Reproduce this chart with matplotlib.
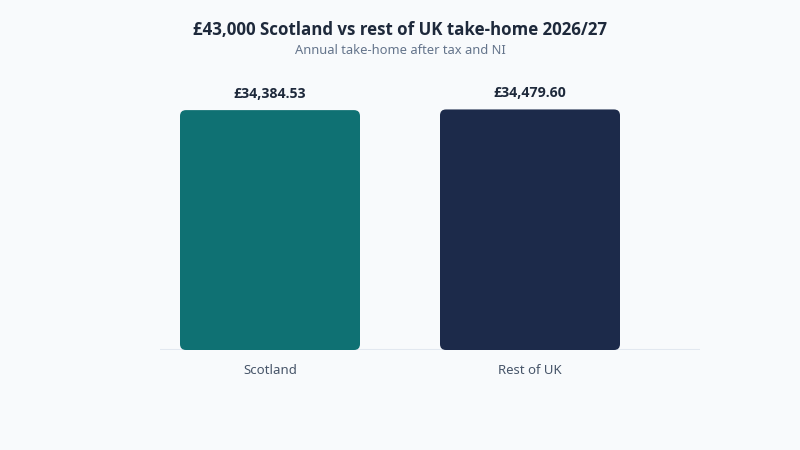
import matplotlib.pyplot as plt
from matplotlib.patches import FancyBboxPatch

# data
categories = ["Scotland", "Rest of UK"]
take_home = [34384.53, 34479.60]
bar_colors = ["#0f7173", "#1c2a4a"]

plt.rcParams['font.family'] = ['Noto Sans', 'DejaVu Sans']
bold_font = ['Open Sans', 'DejaVu Sans']

fig = plt.figure(figsize=(8, 4.5), dpi=100)
fig.patch.set_facecolor("#f8fafc")

# axes spans x 160..700 px, y 50..350 px
ax = fig.add_axes([160/800, 100/450, 540/800, 300/450])
ax.set_facecolor("#f8fafc")

x = list(range(len(categories)))
ymax = 43000
ax.set_xlim(-110/260, 1 + 170/260)
ax.set_ylim(0, ymax)

bars = ax.bar(x, take_home, width=180/260, color=bar_colors)

# swap plain bars for rounded ones
px_x = 1/260
px_y = ymax/300
for b, c in zip(bars, bar_colors):
    b.set_visible(False)
    rb = FancyBboxPatch((b.get_x(), 0), b.get_width(), b.get_height(),
                        boxstyle="round,pad=0,rounding_size=%f" % (6*px_x),
                        mutation_aspect=px_y/px_x,
                        facecolor=c, edgecolor="none", zorder=2)
    ax.add_patch(rb)

for xi, v in zip(x, take_home):
    ax.text(xi, v + 9*px_y, "£{:,.2f}".format(v), ha="center", va="bottom",
            fontsize=10.2, fontweight="bold", color="#1e293b", family=bold_font)

ax.axhline(0, color="#e2e8f0", lw=1.5, zorder=1)
for s in ax.spines.values():
    s.set_visible(False)
ax.set_yticks([])
ax.set_xticks(x)
ax.set_xticklabels(categories, fontsize=9.5, color="#475569")
ax.tick_params(axis="x", length=0, pad=10)

fig.text(0.5, 1 - 30/450, "£43,000 Scotland vs rest of UK take-home 2026/27",
         ha="center", va="center", fontsize=12.2, fontweight="bold",
         color="#1e293b", family=bold_font)
fig.text(0.5, 1 - 51/450, "Annual take-home after tax and NI",
         ha="center", va="center", fontsize=9.3, color="#64748b")

fig.savefig("out.png", dpi=100, facecolor=fig.get_facecolor())
